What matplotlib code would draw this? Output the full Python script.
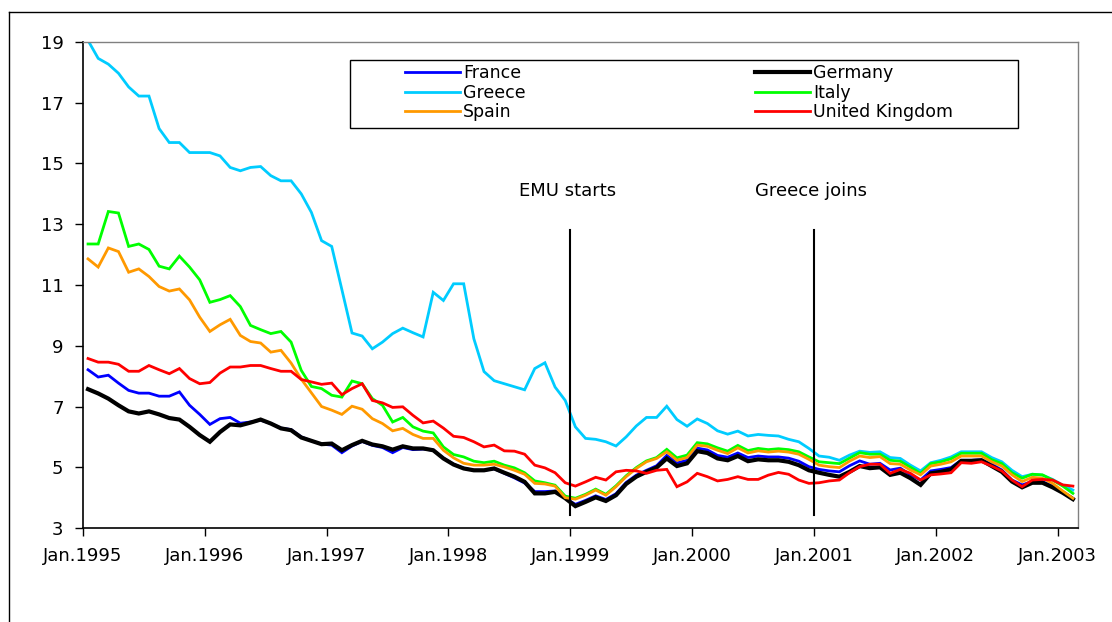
import numpy as np
import matplotlib.pyplot as plt
from matplotlib.lines import Line2D
from matplotlib.patches import Rectangle

plt.rcParams['font.family'] = ['DejaVu Sans']

# monthly yields, Jan 1995 .. Feb 2003
france = [8.21, 7.97, 8.03, 7.77, 7.53, 7.44, 7.44, 7.34, 7.34, 7.48, 7.04, 6.74, 6.41, 6.6, 6.64, 6.45, 6.49, 6.55, 6.44, 6.29, 6.24, 6.0, 5.87, 5.76, 5.73, 5.48,
          5.7, 5.85, 5.72, 5.65, 5.48, 5.65, 5.58, 5.6, 5.56, 5.3, 5.1, 4.97, 4.9, 4.9, 4.95, 4.8, 4.65, 4.48, 4.2, 4.2, 4.22, 3.98, 3.78,
          3.91, 4.06, 3.94, 4.13, 4.5, 4.74, 4.9, 5.05, 5.39, 5.14, 5.23, 5.63, 5.57, 5.39, 5.33, 5.47, 5.32, 5.37, 5.34, 5.34, 5.3, 5.2, 5.02,
          4.93, 4.88, 4.85, 5.05, 5.21, 5.1, 5.13, 4.91, 4.97, 4.75, 4.58, 4.88, 4.93, 4.99, 5.23, 5.23, 5.25, 5.1, 4.91, 4.58, 4.42, 4.53, 4.53, 4.38, 4.2, 3.98]
germany = [7.57, 7.43, 7.26, 7.04, 6.84, 6.77, 6.84, 6.74, 6.62, 6.57, 6.33, 6.06, 5.84, 6.16, 6.41, 6.38, 6.47, 6.57, 6.44, 6.28, 6.22, 5.98, 5.87, 5.76, 5.78, 5.56,
           5.73, 5.87, 5.75, 5.69, 5.58, 5.69, 5.62, 5.62, 5.56, 5.29, 5.09, 4.96, 4.9, 4.9, 4.96, 4.82, 4.69, 4.52, 4.14, 4.14, 4.19, 3.98, 3.72,
           3.86, 4.01, 3.89, 4.08, 4.45, 4.69, 4.85, 4.99, 5.29, 5.04, 5.13, 5.53, 5.47, 5.29, 5.23, 5.37, 5.2, 5.26, 5.23, 5.23, 5.18, 5.07, 4.9,
           4.82, 4.75, 4.69, 4.85, 5.04, 4.97, 5.0, 4.75, 4.82, 4.64, 4.42, 4.8, 4.85, 4.93, 5.21, 5.21, 5.23, 5.04, 4.85, 4.53, 4.34, 4.49, 4.49, 4.34, 4.16, 3.95]
greece = [19.05, 18.46, 18.27, 17.97, 17.52, 17.22, 17.22, 16.15, 15.69, 15.69, 15.36, 15.36, 15.36, 15.25, 14.87, 14.76, 14.87, 14.9, 14.6, 14.43, 14.43, 14.0, 13.39,
          12.46, 12.27, 10.85, 9.42, 9.32, 8.9, 9.12, 9.4, 9.58, 9.43, 9.29, 10.76, 10.49, 11.04, 11.04, 9.23, 8.15, 7.85, 7.75, 7.65, 7.55, 8.25, 8.44, 7.64, 7.2,
          6.33, 5.95, 5.92, 5.84, 5.7, 6.0, 6.36, 6.64, 6.64, 7.01, 6.57, 6.35, 6.59, 6.44, 6.2, 6.09, 6.19, 6.03, 6.08, 6.05, 6.03, 5.92, 5.84, 5.62,
          5.37, 5.33, 5.23, 5.4, 5.53, 5.49, 5.51, 5.32, 5.29, 5.07, 4.88, 5.15, 5.23, 5.34, 5.51, 5.51, 5.51, 5.32, 5.18, 4.9, 4.69, 4.77, 4.74, 4.6, 4.41, 4.25]
italy = [12.35, 12.35, 13.42, 13.37, 12.27, 12.35, 12.17, 11.62, 11.53, 11.95, 11.59, 11.17, 10.43, 10.52, 10.65, 10.29, 9.67, 9.53, 9.40, 9.47, 9.12, 8.19, 7.66, 7.59, 7.37, 7.31,
         7.84, 7.75, 7.26, 7.04, 6.49, 6.64, 6.33, 6.19, 6.13, 5.67, 5.42, 5.34, 5.2, 5.15, 5.2, 5.07, 4.98, 4.82, 4.55, 4.49, 4.41, 4.05, 3.98,
         4.11, 4.28, 4.11, 4.39, 4.72, 4.99, 5.21, 5.32, 5.59, 5.31, 5.4, 5.81, 5.77, 5.64, 5.53, 5.72, 5.55, 5.62, 5.58, 5.61, 5.58, 5.51, 5.34,
         5.18, 5.15, 5.12, 5.3, 5.48, 5.43, 5.43, 5.23, 5.2, 5.0, 4.8, 5.12, 5.18, 5.28, 5.46, 5.46, 5.46, 5.25, 5.12, 4.82, 4.64, 4.77, 4.75, 4.58, 4.38, 4.14]
spain = [11.86, 11.59, 12.22, 12.1, 11.42, 11.53, 11.28, 10.95, 10.8, 10.87, 10.51, 9.94, 9.47, 9.69, 9.87, 9.34, 9.14, 9.09, 8.79, 8.85, 8.43, 7.9, 7.45,
         7.0, 6.88, 6.74, 7.01, 6.91, 6.6, 6.44, 6.2, 6.28, 6.08, 5.95, 5.95, 5.56, 5.31, 5.13, 5.07, 5.07, 5.1, 5.01, 4.9, 4.77, 4.47, 4.45, 4.38, 4.0, 3.95,
         4.08, 4.25, 4.08, 4.36, 4.69, 4.96, 5.18, 5.29, 5.51, 5.23, 5.32, 5.73, 5.69, 5.56, 5.45, 5.64, 5.47, 5.54, 5.5, 5.53, 5.5, 5.43, 5.26,
         5.07, 5.02, 4.99, 5.2, 5.37, 5.32, 5.35, 5.12, 5.1, 4.91, 4.75, 5.04, 5.1, 5.18, 5.37, 5.37, 5.37, 5.18, 5.04, 4.75, 4.53, 4.67, 4.64, 4.47, 4.22, 3.98]
uk = [8.58, 8.46, 8.46, 8.39, 8.16, 8.16, 8.35, 8.21, 8.08, 8.25, 7.92, 7.75, 7.79, 8.1, 8.3, 8.3, 8.35, 8.35, 8.25, 8.16, 8.16, 7.89, 7.81,
      7.73, 7.77, 7.39, 7.59, 7.75, 7.2, 7.12, 6.97, 6.99, 6.71, 6.46, 6.52, 6.29, 6.02, 5.98, 5.84, 5.67, 5.73, 5.54, 5.53, 5.43, 5.07, 4.98, 4.82, 4.49, 4.38,
      4.52, 4.67, 4.58, 4.85, 4.9, 4.88, 4.8, 4.9, 4.93, 4.36, 4.52, 4.8, 4.69, 4.55, 4.6, 4.69, 4.6, 4.6, 4.74, 4.83, 4.77, 4.58, 4.47,
      4.49, 4.55, 4.58, 4.82, 5.02, 5.1, 5.1, 4.8, 4.93, 4.8, 4.58, 4.75, 4.78, 4.82, 5.15, 5.13, 5.18, 5.04, 4.88, 4.58, 4.36, 4.58, 4.6, 4.58, 4.42, 4.38]

year_labels = ['Jan.1995', 'Jan.1996', 'Jan.1997', 'Jan.1998', 'Jan.1999',
               'Jan.2000', 'Jan.2001', 'Jan.2002', 'Jan.2003']
events = [('EMU starts', 48), ('Greece joins', 72)]

series = [('France', france, '#0000FF', 2.0),
          ('Germany', germany, '#000000', 3.0),
          ('Greece', greece, '#00CCFF', 2.0),
          ('Italy', italy, '#00FF00', 2.0),
          ('Spain', spain, '#FF9900', 2.0),
          ('United Kingdom', uk, '#FF0000', 2.0)]

fig = plt.figure(figsize=(11.12, 6.22), dpi=100)
ax = fig.add_axes([0.0746, 0.1511, 0.8948, 0.7814])

months = np.arange(len(germany)) + 0.5
handles = {}
for name, vals, col, lw in series:
    ln, = ax.plot(months, vals, color=col, lw=lw, label=name, solid_joinstyle='miter')
    handles[name] = ln

for txt, m in events:
    ax.plot([m, m], [3.43, 12.8], color='black', lw=1.5)
    ax.text(m - 0.3, 14.1, txt, ha='center', va='center', fontsize=13)

ax.set_xlim(0, 98)
ax.set_ylim(3, 19)
ax.set_xticks(np.arange(0, 97, 12))
ax.set_xticklabels(year_labels)
ax.set_yticks(np.arange(3, 20, 2))
ax.tick_params(axis='both', direction='out', length=6, width=1, labelsize=13)
ax.tick_params(axis='x', pad=8)
ax.tick_params(axis='y', pad=8)
for s in ['left', 'bottom']:
    ax.spines[s].set_color('black')
    ax.spines[s].set_linewidth(1.2)
for s in ['top', 'right']:
    ax.spines[s].set_color('#808080')
    ax.spines[s].set_linewidth(1.0)

# legend frame plus two columns
ax.add_patch(Rectangle((0.268, 0.823), 0.672, 0.140, transform=ax.transAxes,
                       facecolor='white', edgecolor='black', lw=1, zorder=5))
col1 = ['France', 'Greece', 'Spain']
col2 = ['Germany', 'Italy', 'United Kingdom']
leg_kw = dict(loc='upper left', frameon=False, fontsize=12.5, borderpad=0,
              borderaxespad=0, handlelength=3.15, handletextpad=0.2,
              labelspacing=0.09)
leg1 = ax.legend([handles[n] for n in col1], col1,
                 bbox_to_anchor=(0.3236, 0.954), **leg_kw)
leg1.set_zorder(6)
ax.add_artist(leg1)
leg2 = ax.legend([handles[n] for n in col2], col2,
                 bbox_to_anchor=(0.6754, 0.954), **leg_kw)
leg2.set_zorder(6)

# outer chart border
bx = 9 / 1112
by = 1 - 12 / 622
fig.add_artist(Line2D([bx, bx], [0, by], transform=fig.transFigure, color='black', lw=1))
fig.add_artist(Line2D([bx, 1], [by, by], transform=fig.transFigure, color='black', lw=1))

fig.savefig('out.png', dpi=100)
